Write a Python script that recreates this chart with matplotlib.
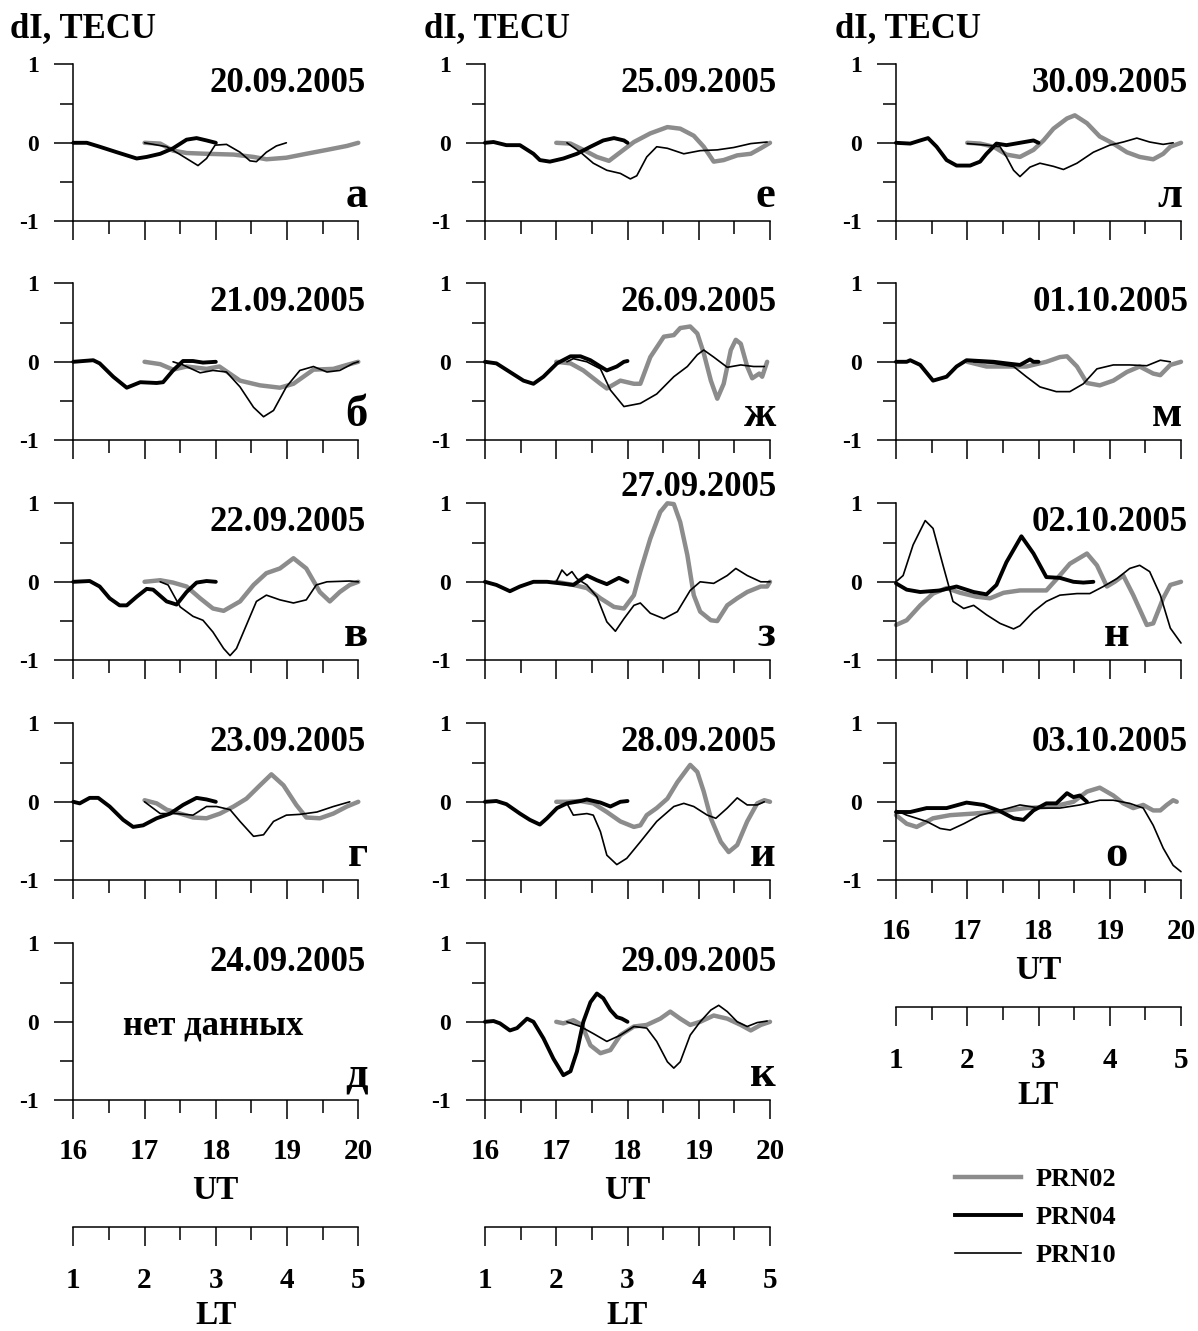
import matplotlib
matplotlib.use("Agg")
import matplotlib.pyplot as plt
from matplotlib.lines import Line2D

plt.rcParams['font.family'] = ['Liberation Serif', 'DejaVu Serif']
plt.rcParams['font.weight'] = 'bold'

# ---- data: (UT hour, dI in TECU) ----
# 20.09.2005
a02 = [(17.0, 0.0), (17.22, -0.01), (17.40, -0.1), (17.59, -0.13), (17.87, -0.14), (18.25, -0.15), (18.53, -0.18),
       (18.71, -0.21), (18.99, -0.19), (19.27, -0.14), (19.56, -0.09), (19.84, -0.04), (20.0, 0.0)]
a04 = [(16.0, 0.0), (16.19, 0.0), (16.37, -0.05), (16.61, -0.12), (16.89, -0.2), (17.03, -0.18), (17.22, -0.14),
       (17.40, -0.07), (17.59, 0.04), (17.73, 0.06), (17.87, 0.03), (18.0, 0.0)]
a10 = [(17.0, 0.0), (17.31, -0.05), (17.50, -0.15), (17.75, -0.29), (17.87, -0.2), (17.99, -0.03), (18.15, -0.02),
       (18.34, -0.12), (18.48, -0.23), (18.57, -0.24), (18.71, -0.12), (18.85, -0.04), (18.99, 0.0)]
# 21.09.2005
b02 = [(17.0, 0.0), (17.22, -0.03), (17.40, -0.1), (17.59, -0.06), (17.87, -0.09), (18.05, -0.06), (18.34, -0.24),
       (18.62, -0.3), (18.9, -0.33), (19.09, -0.28), (19.37, -0.1), (19.65, -0.09), (19.84, -0.04), (20.0, 0.0)]
b04 = [(16.0, 0.0), (16.28, 0.02), (16.37, -0.02), (16.56, -0.19), (16.75, -0.33), (16.94, -0.26), (17.17, -0.27),
       (17.26, -0.26), (17.40, -0.11), (17.54, 0.01), (17.68, 0.01), (17.82, -0.01), (18.0, 0.0)]
b10 = [(17.4, 0.0), (17.54, -0.04), (17.78, -0.14), (17.96, -0.11), (18.15, -0.13), (18.34, -0.32), (18.53, -0.58),
       (18.67, -0.7), (18.81, -0.62), (18.99, -0.32), (19.18, -0.11), (19.37, -0.06), (19.56, -0.13), (19.74, -0.11),
       (19.93, -0.02), (20.0, 0.0)]
# 22.09.2005
c02 = [(17.0, 0.0), (17.22, 0.02), (17.40, -0.01), (17.59, -0.06), (17.78, -0.21), (17.96, -0.34), (18.11, -0.37),
       (18.34, -0.25), (18.53, -0.04), (18.71, 0.11), (18.90, 0.17), (19.09, 0.3), (19.27, 0.17), (19.46, -0.13),
       (19.6, -0.25), (19.74, -0.13), (19.88, -0.04), (20.0, 0.0)]
c04 = [(16.0, 0.0), (16.23, 0.01), (16.37, -0.06), (16.51, -0.21), (16.65, -0.3), (16.75, -0.3), (16.89, -0.19),
       (17.03, -0.09), (17.12, -0.1), (17.31, -0.25), (17.45, -0.29), (17.59, -0.13), (17.73, -0.01), (17.87, 0.01),
       (18.0, 0.0)]
c10 = [(17.22, 0.0), (17.33, -0.04), (17.5, -0.32), (17.68, -0.44), (17.82, -0.49), (17.96, -0.64), (18.11, -0.85),
       (18.2, -0.94), (18.29, -0.85), (18.43, -0.55), (18.57, -0.25), (18.71, -0.17), (18.9, -0.23), (19.09, -0.27),
       (19.27, -0.23), (19.41, -0.04), (19.56, 0.0), (19.88, 0.01), (20.0, 0.0)]
# 23.09.2005
d02 = [(17.0, 0.02), (17.17, -0.02), (17.31, -0.1), (17.5, -0.15), (17.68, -0.2), (17.87, -0.21), (18.06, -0.15),
       (18.25, -0.06), (18.43, 0.04), (18.62, 0.21), (18.78, 0.35), (18.95, 0.21), (19.13, -0.04), (19.27, -0.2),
       (19.46, -0.21), (19.65, -0.15), (19.84, -0.06), (20.0, 0.0)]
d04 = [(16.0, 0.0), (16.09, -0.02), (16.23, 0.05), (16.35, 0.05), (16.51, -0.06), (16.7, -0.23), (16.84, -0.32),
       (16.98, -0.3), (17.17, -0.21), (17.36, -0.15), (17.54, -0.04), (17.73, 0.05), (17.87, 0.03), (18.0, 0.0)]
d10 = [(17.0, 0.0), (17.22, -0.15), (17.45, -0.15), (17.68, -0.17), (17.87, -0.06), (18.01, -0.06), (18.2, -0.1),
       (18.34, -0.25), (18.53, -0.44), (18.67, -0.42), (18.81, -0.25), (18.99, -0.17), (19.18, -0.16), (19.42, -0.13),
       (19.65, -0.06), (19.88, 0.0)]
# 25.09.2005
e02 = [(17.0, 0.0), (17.2, -0.01), (17.38, -0.09), (17.57, -0.18), (17.74, -0.23), (17.9, -0.12), (18.09, 0.01),
       (18.32, 0.12), (18.56, 0.2), (18.74, 0.18), (18.93, 0.09), (19.07, -0.05), (19.21, -0.24), (19.35, -0.22),
       (19.54, -0.16), (19.73, -0.14), (19.87, -0.07), (20.0, 0.0)]
e04 = [(16.0, 0.0), (16.12, 0.01), (16.30, -0.03), (16.49, -0.03), (16.68, -0.14), (16.77, -0.22), (16.91, -0.24),
       (17.10, -0.2), (17.29, -0.14), (17.48, -0.05), (17.66, 0.03), (17.81, 0.06), (17.95, 0.03), (18.0, 0.0)]
e10 = [(17.15, 0.0), (17.34, -0.12), (17.52, -0.26), (17.71, -0.35), (17.9, -0.39), (18.04, -0.46), (18.13, -0.42),
       (18.27, -0.18), (18.41, -0.05), (18.56, -0.07), (18.79, -0.14), (19.02, -0.1), (19.26, -0.09), (19.49, -0.06),
       (19.73, -0.01), (19.96, 0.01)]
# 26.09.2005
f02 = [(17.0, 0.0), (17.2, -0.02), (17.38, -0.11), (17.62, -0.28), (17.71, -0.34), (17.9, -0.24), (18.09, -0.28),
       (18.18, -0.28), (18.32, 0.06), (18.51, 0.32), (18.65, 0.34), (18.74, 0.43), (18.88, 0.45), (18.98, 0.36),
       (19.07, 0.11), (19.17, -0.24), (19.26, -0.47), (19.35, -0.28), (19.45, 0.15), (19.52, 0.28), (19.59, 0.23),
       (19.68, -0.06), (19.75, -0.21), (19.85, -0.15), (19.89, -0.19), (19.96, 0.0)]
f04 = [(16.0, 0.0), (16.16, -0.02), (16.35, -0.13), (16.54, -0.24), (16.68, -0.28), (16.82, -0.19), (17.01, -0.02),
       (17.2, 0.07), (17.34, 0.07), (17.48, 0.02), (17.62, -0.06), (17.71, -0.11), (17.85, -0.06), (17.95, 0.0),
       (18.0, 0.01)]
f10 = [(17.15, 0.0), (17.24, 0.04), (17.43, 0.0), (17.62, -0.09), (17.76, -0.36), (17.95, -0.57), (18.18, -0.53),
       (18.41, -0.41), (18.65, -0.19), (18.84, -0.06), (18.98, 0.09), (19.07, 0.15), (19.21, 0.06), (19.4, -0.07),
       (19.59, -0.04), (19.77, -0.06), (19.92, -0.06)]
# 27.09.2005
g02 = [(17.0, 0.0), (17.24, -0.04), (17.43, -0.08), (17.62, -0.21), (17.81, -0.32), (17.95, -0.34), (18.09, -0.17),
       (18.18, 0.13), (18.32, 0.55), (18.46, 0.89), (18.56, 1.0), (18.65, 0.99), (18.74, 0.76), (18.84, 0.34),
       (18.93, -0.17), (19.02, -0.38), (19.17, -0.49), (19.26, -0.5), (19.4, -0.3), (19.54, -0.21), (19.68, -0.13),
       (19.87, -0.06), (19.96, -0.06), (20.0, 0.0)]
g04 = [(16.0, 0.0), (16.16, -0.04), (16.35, -0.12), (16.49, -0.06), (16.68, 0.0), (16.87, 0.0), (17.06, -0.02),
       (17.24, -0.04), (17.43, 0.08), (17.57, 0.02), (17.71, -0.03), (17.88, 0.05), (18.0, 0.0)]
g10 = [(17.0, 0.0), (17.08, 0.15), (17.15, 0.08), (17.22, 0.13), (17.29, 0.04), (17.43, -0.04), (17.57, -0.19),
       (17.71, -0.51), (17.83, -0.63), (17.95, -0.47), (18.09, -0.3), (18.18, -0.27), (18.32, -0.4), (18.51, -0.47),
       (18.70, -0.38), (18.88, -0.11), (19.02, 0.0), (19.21, -0.02), (19.4, 0.08), (19.52, 0.17), (19.68, 0.08),
       (19.87, 0.0), (20.0, 0.0)]
# 28.09.2005
h02 = [(17.0, 0.0), (17.15, 0.0), (17.34, 0.01), (17.52, -0.02), (17.71, -0.13), (17.9, -0.25), (18.09, -0.32),
       (18.18, -0.3), (18.27, -0.17), (18.41, -0.08), (18.56, 0.04), (18.7, 0.25), (18.88, 0.47), (18.98, 0.38),
       (19.07, 0.13), (19.17, -0.21), (19.31, -0.51), (19.42, -0.64), (19.54, -0.55), (19.68, -0.25), (19.82, -0.02),
       (19.92, 0.02), (20.0, 0.0)]
h04 = [(16.0, 0.0), (16.16, 0.01), (16.3, -0.03), (16.49, -0.15), (16.63, -0.23), (16.77, -0.29), (16.87, -0.21),
       (17.01, -0.08), (17.15, -0.02), (17.34, 0.01), (17.43, 0.03), (17.62, -0.01), (17.76, -0.06), (17.9, 0.0),
       (18.0, 0.01)]
h10 = [(17.15, -0.02), (17.24, -0.17), (17.43, -0.15), (17.52, -0.17), (17.62, -0.38), (17.71, -0.68), (17.85, -0.8),
       (17.99, -0.72), (18.18, -0.51), (18.41, -0.25), (18.65, -0.06), (18.79, -0.02), (18.93, -0.06), (19.12, -0.17),
       (19.24, -0.21), (19.4, -0.08), (19.54, 0.05), (19.68, -0.04), (19.82, -0.04), (19.92, 0.0)]
# 29.09.2005
k02 = [(17.0, 0.0), (17.1, -0.02), (17.24, 0.02), (17.36, -0.04), (17.48, -0.3), (17.62, -0.4), (17.76, -0.36),
       (17.9, -0.17), (18.09, -0.06), (18.27, -0.04), (18.46, 0.04), (18.6, 0.13), (18.74, 0.04), (18.88, -0.04),
       (19.02, 0.0), (19.21, 0.08), (19.4, 0.04), (19.59, -0.04), (19.73, -0.11), (19.87, -0.04), (20.0, 0.0)]
k04 = [(16.0, 0.0), (16.12, 0.01), (16.21, -0.02), (16.35, -0.11), (16.45, -0.08), (16.59, 0.04), (16.68, 0.0),
       (16.82, -0.21), (16.96, -0.47), (17.1, -0.68), (17.2, -0.63), (17.29, -0.38), (17.38, 0.0), (17.48, 0.25),
       (17.57, 0.36), (17.66, 0.3), (17.76, 0.15), (17.85, 0.06), (17.92, 0.04), (18.0, 0.0)]
k10 = [(17.15, 0.0), (17.34, -0.06), (17.52, -0.15), (17.71, -0.25), (17.9, -0.17), (18.09, -0.06), (18.27, -0.08),
       (18.41, -0.25), (18.56, -0.51), (18.65, -0.59), (18.74, -0.51), (18.88, -0.17), (19.02, 0.0), (19.17, 0.15),
       (19.28, 0.21), (19.4, 0.13), (19.54, 0.0), (19.68, -0.06), (19.82, -0.01), (19.96, 0.01)]
# 30.09.2005
l02 = [(17.0, 0.0), (17.18, -0.01), (17.37, -0.05), (17.55, -0.15), (17.74, -0.18), (17.93, -0.09), (18.07, 0.03),
       (18.21, 0.18), (18.4, 0.31), (18.51, 0.35), (18.68, 0.25), (18.86, 0.08), (19.05, -0.01), (19.24, -0.12),
       (19.42, -0.18), (19.61, -0.21), (19.75, -0.14), (19.85, -0.05), (20.0, 0.0)]
l04 = [(16.0, 0.0), (16.2, -0.01), (16.34, 0.03), (16.45, 0.06), (16.57, -0.05), (16.71, -0.22), (16.85, -0.29),
       (17.04, -0.29), (17.18, -0.24), (17.27, -0.14), (17.41, -0.01), (17.55, -0.03), (17.74, 0.0), (17.93, 0.03),
       (18.0, 0.0)]
l10 = [(17.0, -0.01), (17.27, -0.03), (17.46, -0.05), (17.55, -0.18), (17.65, -0.35), (17.74, -0.43), (17.88, -0.31),
       (18.02, -0.26), (18.21, -0.3), (18.35, -0.34), (18.54, -0.26), (18.77, -0.12), (19.0, -0.03), (19.19, 0.01),
       (19.38, 0.06), (19.56, 0.01), (19.75, -0.02), (19.89, 0.0)]
# 01.10.2005
m02 = [(17.0, 0.0), (17.27, -0.06), (17.55, -0.06), (17.83, -0.06), (18.11, 0.0), (18.3, 0.06), (18.4, 0.07),
       (18.54, -0.06), (18.68, -0.27), (18.86, -0.3), (19.05, -0.24), (19.24, -0.13), (19.42, -0.06), (19.61, -0.15),
       (19.71, -0.17), (19.85, -0.04), (20.0, 0.0)]
m04 = [(16.0, 0.0), (16.15, 0.0), (16.2, 0.02), (16.34, -0.04), (16.52, -0.24), (16.71, -0.19), (16.85, -0.06),
       (16.99, 0.02), (17.18, 0.01), (17.37, 0.0), (17.55, -0.02), (17.74, -0.04), (17.88, 0.03), (17.93, 0.0),
       (18.0, 0.0)]
m10 = [(17.09, 0.0), (17.37, -0.02), (17.65, -0.06), (17.83, -0.19), (18.02, -0.32), (18.25, -0.38), (18.44, -0.38),
       (18.63, -0.28), (18.82, -0.09), (19.05, -0.04), (19.28, -0.04), (19.52, -0.05), (19.71, 0.02), (19.85, 0.0)]
# 02.10.2005
n02 = [(16.0, -0.55), (16.15, -0.49), (16.34, -0.3), (16.52, -0.15), (16.71, -0.08), (16.9, -0.14), (17.13, -0.19),
       (17.32, -0.21), (17.51, -0.14), (17.74, -0.11), (17.93, -0.11), (18.11, -0.11), (18.26, 0.04), (18.44, 0.23),
       (18.68, 0.36), (18.82, 0.21), (18.96, -0.06), (19.07, 0.0), (19.19, 0.08), (19.33, -0.17), (19.52, -0.55),
       (19.61, -0.53), (19.75, -0.21), (19.85, -0.04), (20.0, 0.0)]
n04 = [(16.0, -0.02), (16.15, -0.1), (16.34, -0.13), (16.62, -0.11), (16.85, -0.06), (17.09, -0.13), (17.27, -0.16),
       (17.41, -0.04), (17.55, 0.25), (17.76, 0.58), (17.93, 0.36), (18.11, 0.06), (18.3, 0.05), (18.49, 0.0),
       (18.63, -0.01), (18.77, 0.0)]
n10 = [(16.0, 0.0), (16.1, 0.08), (16.24, 0.47), (16.41, 0.78), (16.52, 0.68), (16.66, 0.21), (16.8, -0.25),
       (16.95, -0.34), (17.09, -0.3), (17.27, -0.42), (17.46, -0.53), (17.65, -0.6), (17.74, -0.56), (17.93, -0.38),
       (18.11, -0.25), (18.3, -0.17), (18.54, -0.15), (18.72, -0.15), (18.91, -0.06), (19.1, 0.04), (19.28, 0.17),
       (19.42, 0.21), (19.56, 0.13), (19.71, -0.17), (19.85, -0.59), (20.0, -0.78)]
# 03.10.2005
o02 = [(16.0, -0.17), (16.15, -0.28), (16.29, -0.32), (16.52, -0.21), (16.76, -0.17), (17.09, -0.15), (17.46, -0.12),
       (17.83, -0.08), (18.21, -0.06), (18.49, 0.0), (18.68, 0.13), (18.86, 0.18), (19.05, 0.08), (19.19, -0.02),
       (19.33, -0.08), (19.47, -0.04), (19.61, -0.11), (19.71, -0.11), (19.8, -0.04), (19.89, 0.02), (19.94, 0.0)]
o04 = [(16.0, -0.13), (16.2, -0.13), (16.43, -0.08), (16.71, -0.08), (16.99, -0.01), (17.23, -0.04), (17.46, -0.12),
       (17.65, -0.21), (17.79, -0.23), (17.93, -0.11), (18.11, -0.02), (18.25, -0.02), (18.4, 0.11), (18.49, 0.06),
       (18.58, 0.08), (18.68, 0.0)]
o10 = [(16.0, -0.11), (16.15, -0.17), (16.43, -0.25), (16.62, -0.34), (16.76, -0.36), (16.95, -0.28), (17.18, -0.17),
       (17.46, -0.11), (17.74, -0.04), (18.02, -0.08), (18.3, -0.08), (18.58, -0.04), (18.86, 0.02), (19.05, 0.02),
       (19.28, -0.02), (19.47, -0.08), (19.61, -0.3), (19.75, -0.59), (19.89, -0.81), (20.0, -0.89)]

dates = ["20.09.2005", "21.09.2005", "22.09.2005", "23.09.2005", "24.09.2005",
         "25.09.2005", "26.09.2005", "27.09.2005", "28.09.2005", "29.09.2005",
         "30.09.2005", "01.10.2005", "02.10.2005", "03.10.2005"]
letters = ["а", "б", "в", "г", "д", "е", "ж", "з", "и", "к", "л", "м", "н", "о"]
series02 = [a02, b02, c02, d02, None, e02, f02, g02, h02, k02, l02, m02, n02, o02]
series04 = [a04, b04, c04, d04, None, e04, f04, g04, h04, k04, l04, m04, n04, o04]
series10 = [a10, b10, c10, d10, None, e10, f10, g10, h10, k10, l10, m10, n10, o10]
labels = ["PRN02", "PRN04", "PRN10"]
ut_ticks = [16, 17, 18, 19, 20]
lt_ticks = [1, 2, 3, 4, 5]

GRAY = '#8c8c8c'
W, H = 1198, 1331
fig = plt.figure(figsize=(W / 100, H / 100), dpi=100)


def add_px_axes(left, top, width, height):
    return fig.add_axes([left / W, 1 - (top + height) / H, width / W, height / H])


def fig_text(x, y, s, **kw):
    fig.text(x / W, 1 - y / H, s, **kw)


col_left = [73.3, 485, 896]
row_top = [64.3, 283.3, 503.3, 723.3, 943.3]
AW, AH = 285, 157
n_rows = [5, 5, 4]
letter_x = [20.13, 20.08, 20.02]

idx = 0
for col in range(3):
    for row in range(n_rows[col]):
        ax = add_px_axes(col_left[col], row_top[row], AW, AH)
        ax.set_xlim(16, 20)
        ax.set_ylim(-1, 1)
        for s in ['top', 'right']:
            ax.spines[s].set_visible(False)
        for s in ['left', 'bottom']:
            ax.spines[s].set_linewidth(1.1)
        ax.set_xticks(ut_ticks)
        ax.set_xticks([16.5, 17.5, 18.5, 19.5], minor=True)
        ax.set_yticks([-1, 0, 1])
        ax.set_yticks([-0.5, 0.5], minor=True)
        ax.tick_params(which='major', direction='out', length=13.5, width=1.1)
        ax.tick_params(which='minor', direction='out', length=9.5, width=1.1)
        ax.tick_params(axis='y', labelsize=17, pad=11)
        ax.tick_params(axis='x', labelsize=21, pad=14)
        ax.set_yticklabels(["-1", "0", "1"])
        if row != n_rows[col] - 1:
            ax.set_xticklabels([])

        if series02[idx] is not None:
            for data, color, lw in [(series02[idx], GRAY, 3.2),
                                    (series04[idx], 'black', 2.8),
                                    (series10[idx], 'black', 1.2)]:
                xs = [p[0] for p in data]
                ys = [p[1] for p in data]
                ax.plot(xs, ys, color=color, lw=lw, solid_joinstyle='round',
                        solid_capstyle='round', clip_on=False)
        else:
            ax.text(17.96, -0.16, "нет данных", fontsize=25, ha='center', va='baseline')

        date_y = 1.2 if dates[idx] == "27.09.2005" else 0.76
        ax.text(20.1, date_y, dates[idx], fontsize=25, ha='right', va='center')
        if letters[idx] in ("н", "о"):
            ax.text(19.1, -0.82, letters[idx], fontsize=32, ha='center', va='baseline')
        else:
            ax.text(letter_x[col], -0.82, letters[idx], fontsize=32, ha='right', va='baseline')

        if row == n_rows[col] - 1:
            bottom = row_top[row] + AH
            fig_text(col_left[col] + AW / 2, bottom + 90, "UT", fontsize=24, ha='center', va='center')
            lt_y = bottom + 127
            lt = add_px_axes(col_left[col], lt_y - 10, AW, 10)
            lt.set_xlim(1, 5)
            for s in ['top', 'right', 'left']:
                lt.spines[s].set_visible(False)
            lt.spines['bottom'].set_linewidth(1.1)
            lt.set_yticks([])
            lt.set_xticks(lt_ticks)
            lt.set_xticks([1.5, 2.5, 3.5, 4.5], minor=True)
            lt.tick_params(which='major', direction='out', length=13.5, width=1.1, labelsize=21, pad=15)
            lt.tick_params(which='minor', direction='out', length=9.5, width=1.1)
            lt.patch.set_visible(False)
            fig_text(col_left[col] + AW / 2, lt_y + 88, "LT", fontsize=24, ha='center', va='center')
        idx += 1

for x in [10, 424, 835]:
    fig_text(x, 29, "dI, TECU", fontsize=25, ha='left', va='center')

handles = [Line2D([], [], color=GRAY, lw=3.2),
           Line2D([], [], color='black', lw=2.8),
           Line2D([], [], color='black', lw=1.2)]
fig.legend(handles, labels, loc='upper left', bbox_to_anchor=(955 / W, 1 - 1168 / H),
           frameon=False, fontsize=19, handlelength=2.5, handletextpad=0.55,
           labelspacing=0.55, borderpad=0, borderaxespad=0)

fig.savefig("out.png", dpi=100)
